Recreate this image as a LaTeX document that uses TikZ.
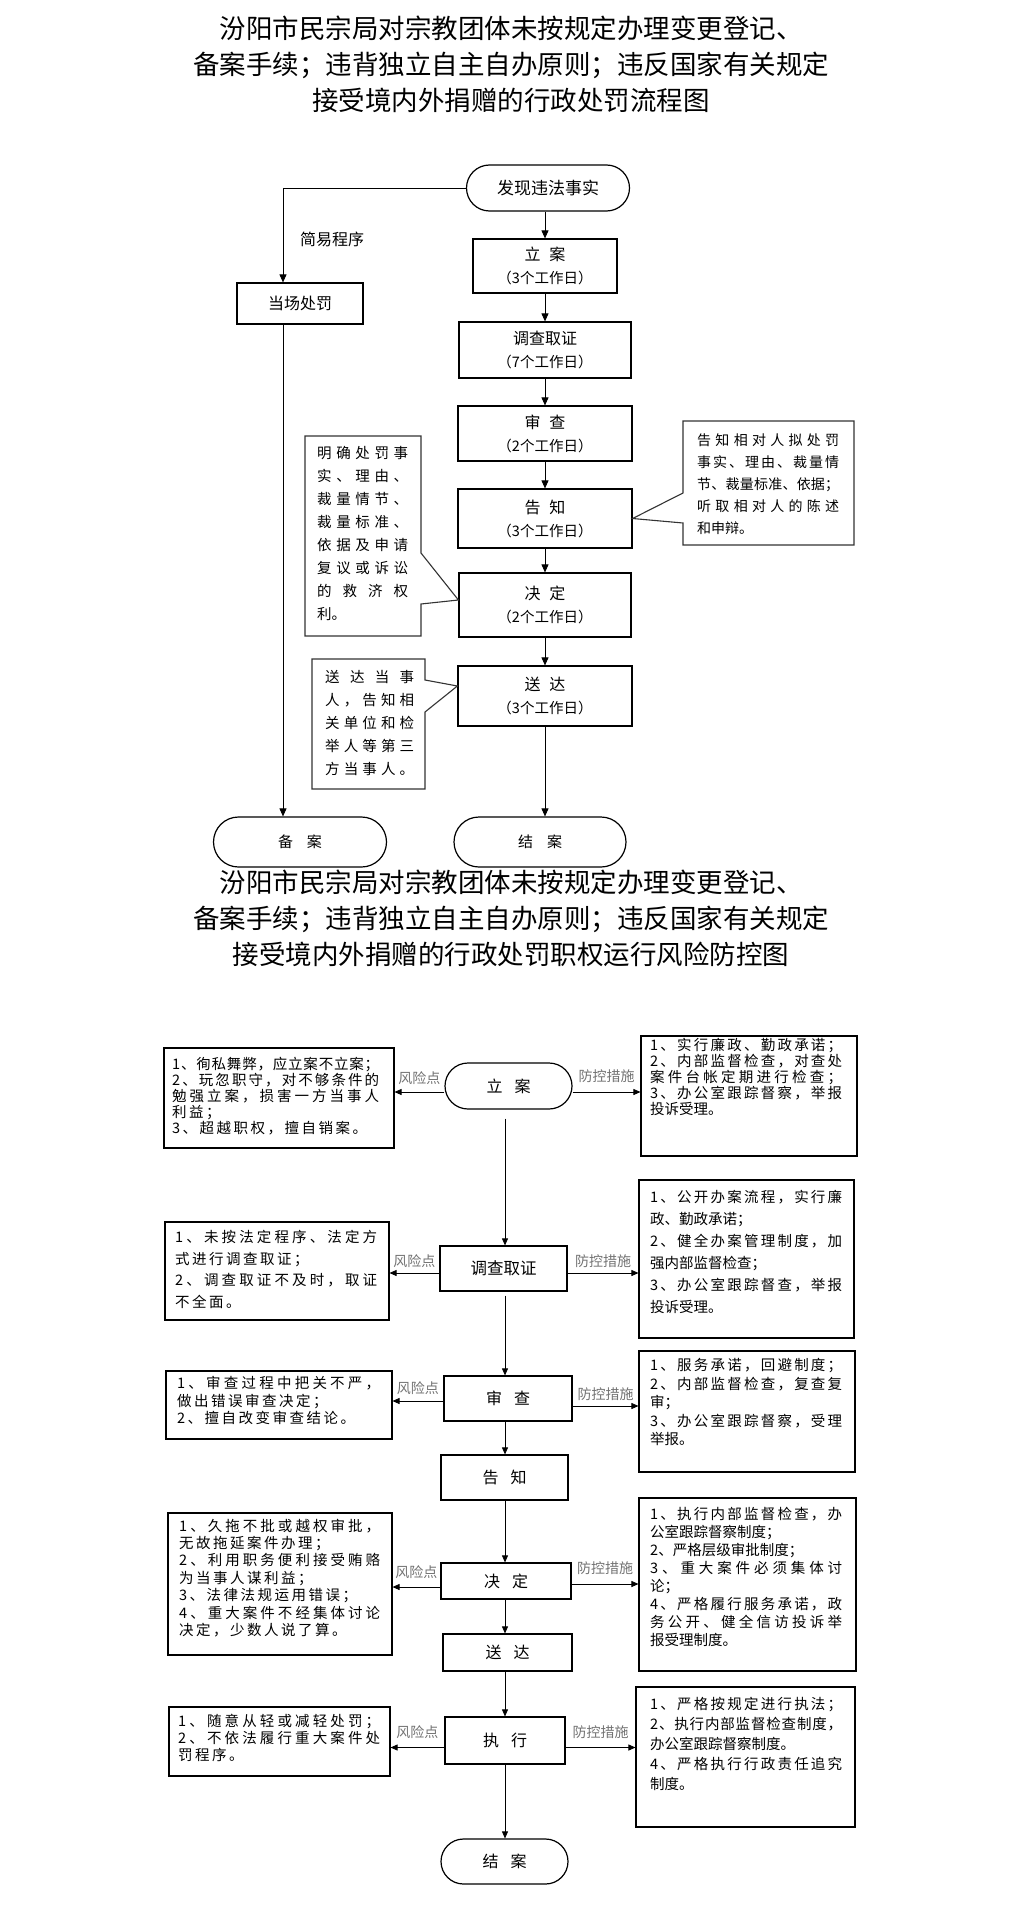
\documentclass[tikz,border=0pt]{standalone}
\usepackage{fontspec}
\setmainfont{Noto Sans CJK SC}
\usetikzlibrary{arrows.meta,calc}
\def\sprx#1{\ifx#1\relax\unskip\else#1\hfil\expandafter\sprx\fi}
\newcommand\jl[2]{\hbox to #1{\sprx#2\relax}}
\def\lsx#1{\ifx#1\relax\unskip\else#1\hskip2.5pt\relax\expandafter\lsx\fi}
\newcommand\ls[1]{\hbox{\lsx#1\relax}}
\newcommand\fsz[2]{\fontsize{#1}{#2}\selectfont\lineskiplimit=-30pt\relax}
\begin{document}
\begin{tikzpicture}[x=1pt,y=-1pt,
  mb/.style={draw=black, line width=1.2pt, fill=white, inner sep=0pt, align=center, font=\fsz{16}{23}},
  stad/.style={mb, rounded corners=#1},
  arr/.style={line width=0.9pt, -{Triangle[length=8pt,width=7pt]}},
  ln/.style={line width=0.9pt},
  cbox/.style={draw=black!80, line width=1.1pt, fill=white},
  ctext/.style={inner sep=0pt, anchor=north west, align=left},
  rb/.style={draw=black, line width=1.1pt, inner sep=0pt, fill=white},
  rt/.style={inner sep=0pt, anchor=north west, align=left},
  arr2/.style={line width=0.8pt, -{Triangle[length=7pt,width=6pt]}},
  lbl/.style={text=black!55, font=\fsz{14}{14}, inner sep=0pt},
  ttl/.style={inner sep=0pt, align=center, font=\fsz{26.5}{36}},
  sm/.style={font=\fsz{14.5}{23}}
]
\path[use as bounding box, fill=white] (0,0) rectangle (1022,1905);

% ---------- Title 1 ----------
\node[ttl] (title1) at (511,64) {汾阳市民宗局对宗教团体未按规定办理变更登记、\\备案手续；违背独立自主自办原则；违反国家有关规定\\接受境内外捐赠的行政处罚流程图};

% ---------- Flow chart 1 ----------
\node[stad=23pt, minimum width=163, minimum height=46, font=\fsz{17}{23}] (find) at (548,188) {发现违法事实};
\node[mb, minimum width=144, minimum height=54] (la1) at (545,266) {立\hspace{9pt}案\\{\fsz{14.5}{23}（3个工作日）}};
\node[mb, minimum width=172, minimum height=56] (dc1) at (545,350) {调查取证\\{\fsz{14.5}{23}（7个工作日）}};
\node[mb, minimum width=174, minimum height=55] (sc1) at (545,433.5) {审\hspace{9pt}查\\{\fsz{14.5}{23}（2个工作日）}};
\node[mb, minimum width=174, minimum height=59] (gz1) at (545,518.5) {告\hspace{9pt}知\\{\fsz{14.5}{23}（3个工作日）}};
\node[mb, minimum width=172, minimum height=64] (jd1) at (545,605) {决\hspace{9pt}定\\{\fsz{14.5}{23}（2个工作日）}};
\node[mb, minimum width=174, minimum height=60] (sd1) at (545,696) {送\hspace{9pt}达\\{\fsz{14.5}{23}（3个工作日）}};
\node[stad=25pt, minimum width=172, minimum height=50, font=\fsz{15}{23}] (ja1) at (540,842) {结\hspace{14pt}案};
\node[stad=25pt, minimum width=173, minimum height=50, font=\fsz{15}{23}] (ba1) at (300,842) {备\hspace{14pt}案};
\node[mb, minimum width=126, minimum height=41] (dcf) at (300,303.5) {当场处罚};
\node[font=\fsz{16}{16}, inner sep=0pt] (jycx) at (332,239) {简易程序};

\coordinate (tl) at (283,188);
\draw[ln] (find.west) -- (tl);
\draw[arr] (tl) -- (tl |- dcf.north);
\draw[arr] (dcf.south -| tl) -- (tl |- ba1.north);

\draw[arr] (find.south -| la1.north) -- (la1.north);
\draw[arr] (la1.south) -- (dc1.north);
\draw[arr] (dc1.south) -- (sc1.north);
\draw[arr] (sc1.south) -- (gz1.north);
\draw[arr] (gz1.south) -- (jd1.north);
\draw[arr] (jd1.south) -- (sd1.north);
\draw[arr] (sd1.south) -- (sd1.south |- ja1.north);

% callouts
\draw[cbox] (305,436) -- (421,436) -- (421,553) -- ([yshift=5pt]jd1.west) -- (421,604) -- (421,636) -- (305,636) -- cycle;
\node[ctext, font=\fsz{14.5}{23}] (mqt) at (317,446.5) {\jl{91pt}{明确处罚事}\\\jl{91pt}{实、理由、}\\\jl{91pt}{裁量情节、}\\\jl{91pt}{裁量标准、}\\\jl{91pt}{依据及申请}\\\jl{91pt}{复议或诉讼}\\\jl{91pt}{的救济权}\\利。};

\draw[cbox] (683,421) -- (854,421) -- (854,545) -- (683,545) -- (683,523) -- (gz1.east) -- (683,493) -- cycle;
\node[ctext, font=\fsz{14}{22}] (gzt) at (697,433.7) {\jl{142pt}{告知相对人拟处罚}\\\jl{142pt}{事实、理由、裁量情}\\\jl{142pt}{节、裁量标准、依据；}\\\jl{142pt}{听取相对人的陈述}\\和申辩。};

\draw[cbox] (312,659) -- (425,659) -- (425,680) -- ([yshift=10pt]sd1.west) -- (425,712) -- (425,789) -- (312,789) -- cycle;
\node[ctext, font=\fsz{14.5}{23}] (sdt) at (325,670.5) {\jl{89pt}{送达当事}\\\jl{89pt}{人，告知相}\\\jl{89pt}{关单位和检}\\\jl{89pt}{举人等第三}\\\jl{89pt}{方当事人。}};

% ---------- Title 2 ----------
\node[ttl] (title2) at (511,918) {汾阳市民宗局对宗教团体未按规定办理变更登记、\\备案手续；违背独立自主自办原则；违反国家有关规定\\接受境内外捐赠的行政处罚职权运行风险防控图};

% ---------- Flow chart 2 ----------
\node[stad=23pt, minimum width=127, minimum height=46, font=\fsz{16}{23}] (la2) at (508.5,1086) {立\hspace{12pt}案};
\node[mb, minimum width=127, minimum height=45, font=\fsz{16.5}{23}] (dc2) at (503.5,1268.5) {调查取证};
\node[mb, minimum width=128, minimum height=45] (sc2) at (508,1398.5) {审\hspace{12pt}查};
\node[mb, minimum width=127, minimum height=45] (gz2) at (504.5,1477.5) {告\hspace{12pt}知};
\node[mb, minimum width=130, minimum height=36] (jd2) at (506,1581) {决\hspace{12pt}定};
\node[mb, minimum width=129, minimum height=37] (sd2) at (507.5,1652.5) {送\hspace{12pt}达};
\node[mb, minimum width=120, minimum height=47] (zx2) at (505,1740.5) {执\hspace{12pt}行};
\node[stad=22.5pt, minimum width=127, minimum height=45] (ja2) at (504.5,1861.5) {结\hspace{12pt}案};

\node[rb, minimum width=230, minimum height=100] (L1) at (279,1098) {};
\node[rb, minimum width=216, minimum height=120] (R1) at (749,1096) {};
\node[rb, minimum width=224, minimum height=98] (L2) at (277,1271) {};
\node[rb, minimum width=215, minimum height=158] (R2) at (746.5,1259) {};
\node[rb, minimum width=226, minimum height=68] (L3) at (279,1405) {};
\node[rb, minimum width=216, minimum height=121] (R3) at (747,1411.5) {};
\node[rb, minimum width=224, minimum height=142] (L4) at (280,1584) {};
\node[rb, minimum width=217, minimum height=173] (R4) at (747.5,1584.5) {};
\node[rb, minimum width=221, minimum height=69] (L5) at (279.5,1741.5) {};
\node[rb, minimum width=219, minimum height=140] (R5) at (745.5,1757) {};

\node[rt, font=\fsz{14.5}{16}] (L1t) at (172,1056.5) {\jl{207pt}{1、徇私舞弊，应立案不立案；}\\\jl{207pt}{2、玩忽职守，对不够条件的}\\\jl{207pt}{勉强立案，损害一方当事人}\\\ls{利益；}\\\ls{3、超越职权，擅自销案。}};
\node[rt, font=\fsz{14.5}{16}] (R1t) at (650,1038.5) {\jl{192pt}{1、实行廉政、勤政承诺；}\\\jl{192pt}{2、内部监督检查，对查处}\\\jl{192pt}{案件台帐定期进行检查；}\\\jl{192pt}{3、办公室跟踪督察，举报}\\投诉受理。};
\node[rt, font=\fsz{14.5}{21.5}] (L2t) at (175,1230.5) {\jl{202pt}{1、未按法定程序、法定方}\\\ls{式进行调查取证；}\\\jl{202pt}{2、调查取证不及时，取证}\\\ls{不全面。}};
\node[rt, font=\fsz{14.5}{22}] (R2t) at (650,1190.5) {\jl{192pt}{1、公开办案流程，实行廉}\\政、勤政承诺；\\\jl{192pt}{2、健全办案管理制度，加}\\强内部监督检查；\\\jl{192pt}{3、办公室跟踪督查，举报}\\投诉受理。};
\node[rt, font=\fsz{14.5}{17.5}] (L3t) at (177,1376.5) {\jl{203pt}{1、审查过程中把关不严，}\\\ls{做出错误审查决定；}\\\ls{2、擅自改变审查结论。}};
\node[rt, font=\fsz{14.5}{18.5}] (R3t) at (650,1358.5) {\jl{192pt}{1、服务承诺，回避制度；}\\\jl{192pt}{2、内部监督检查，复查复}\\审；\\\jl{192pt}{3、办公室跟踪督察，受理}\\举报。};
\node[rt, font=\fsz{14.5}{17.4}] (L4t) at (179,1518.5) {\jl{201pt}{1、久拖不批或越权审批，}\\\ls{无故拖延案件办理；}\\\jl{201pt}{2、利用职务便利接受贿赂}\\\ls{为当事人谋利益；}\\\ls{3、法律法规运用错误；}\\\jl{201pt}{4、重大案件不经集体讨论}\\\ls{决定，少数人说了算。}};
\node[rt, font=\fsz{14.5}{18}] (R4t) at (650,1506.5) {\jl{192pt}{1、执行内部监督检查，办}\\公室跟踪督察制度；\\2、严格层级审批制度；\\\jl{192pt}{3、重大案件必须集体讨}\\论；\\\jl{192pt}{4、严格履行服务承诺，政}\\\jl{192pt}{务公开、健全信访投诉举}\\报受理制度。};
\node[rt, font=\fsz{14.5}{17}] (L5t) at (178,1713.5) {\jl{202pt}{1、随意从轻或减轻处罚；}\\\jl{202pt}{2、不依法履行重大案件处}\\\ls{罚程序。}};
\node[rt, font=\fsz{14.5}{20}] (R5t) at (650,1696.5) {\jl{192pt}{1、严格按规定进行执法；}\\\jl{192pt}{2、执行内部监督检查制度，}\\办公室跟踪督察制度。\\\jl{192pt}{4、严格执行行政责任追究}\\制度。};

% vertical connectors
\coordinate (colx) at (505,0);
\draw[arr2, shorten <=9pt] (la2.south -| colx) -- (dc2.north -| colx);
\draw[arr2, shorten <=4pt] (dc2.south -| colx) -- (sc2.north -| colx);
\draw[arr2] (sc2.south -| colx) -- (gz2.north -| colx);
\draw[arr2] (gz2.south -| colx) -- (jd2.north -| colx);
\draw[arr2] (jd2.south -| colx) -- (sd2.north -| colx);
\draw[arr2] (sd2.south -| colx) -- (zx2.north -| colx);
\draw[arr2] (zx2.south -| colx) -- (ja2.north -| colx);

% horizontal connectors
\coordinate (pl1) at ([yshift=-6pt]la2.west);
\coordinate (pr1) at ([yshift=-6pt]la2.east);
\draw[arr2] (pl1) -- node[lbl, yshift=14pt]{风险点} (pl1 -| L1.east);
\draw[arr2] (pr1) -- node[lbl, yshift=16pt]{防控措施} (pr1 -| R1.west);

\coordinate (pl2) at ([yshift=-4.5pt]dc2.west);
\coordinate (pr2) at ([yshift=-4.5pt]dc2.east);
\draw[arr2] (pl2) -- node[lbl, yshift=12pt]{风险点} (pl2 -| L2.east);
\draw[arr2] (pr2) -- node[lbl, yshift=12pt]{防控措施} (pr2 -| R2.west);

\coordinate (pl3) at ([yshift=-2.5pt]sc2.west);
\coordinate (pr3) at ([yshift=-7.5pt]sc2.east);
\draw[arr2] (pl3) -- node[lbl, yshift=13pt]{风险点} (pl3 -| L3.east);
\draw[arr2] (pr3) -- node[lbl, yshift=12pt]{防控措施} (pr3 -| R3.west);

\coordinate (pl4) at ([yshift=-6pt]jd2.west);
\coordinate (pr4) at ([yshift=-3pt]jd2.east);
\draw[arr2] (pl4) -- node[lbl, yshift=15pt]{风险点} (pl4 -| L4.east);
\draw[arr2] (pr4) -- node[lbl, yshift=16pt]{防控措施} (pr4 -| R4.west);

\coordinate (pl5) at ([yshift=-7pt]zx2.west);
\coordinate (pr5) at ([yshift=-7pt]zx2.east);
\draw[arr2] (pl5) -- node[lbl, yshift=15pt]{风险点} (pl5 -| L5.east);
\draw[arr2] (pr5) -- node[lbl, yshift=15pt]{防控措施} (pr5 -| R5.west);
\end{tikzpicture}
\end{document}
